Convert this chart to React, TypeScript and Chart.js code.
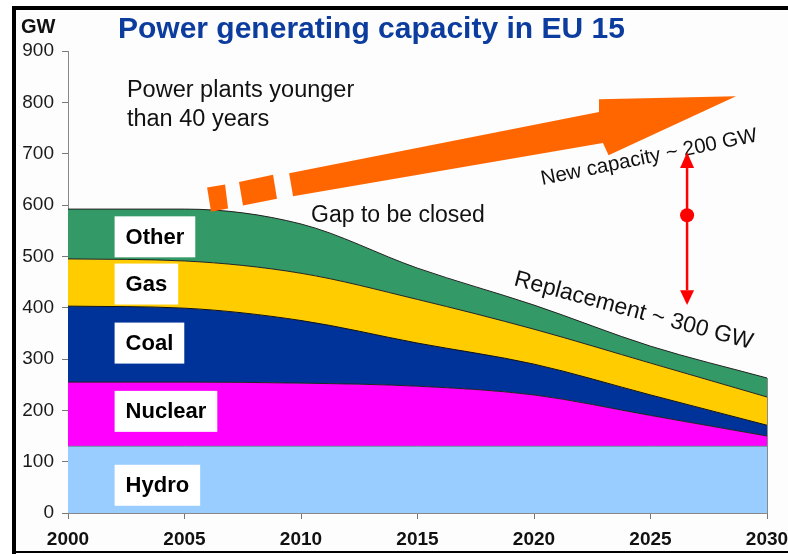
import React, { useEffect, useRef } from "react";
import { Chart, registerables } from "chart.js";

Chart.register(...registerables);

// ---------- data ----------
const years = [2000, 2005, 2010, 2015, 2020, 2025, 2030];
const hydro = [130, 130, 130, 130, 130, 130, 130];
const nuclear = [125, 125, 123, 117, 100, 60, 20];
const coal = [148, 144, 122, 84, 60, 40, 21];
const gas = [92, 92, 92, 85, 68, 62, 55];
const other = [97, 101, 96, 61, 47, 33, 37];

const seriesNames = ["Hydro", "Nuclear", "Coal", "Gas", "Other"];
const seriesValues = [hydro, nuclear, coal, gas, other];
const seriesColors = ["#99ccff", "#ff00ff", "#003399", "#ffcc00", "#339966"];
const seriesBorders = ["#6a8a9a", "#222222", "#111111", "#222222", "#222222"];

const xMin = 2000;
const xMax = 2030;
const xStep = 5;
const yMin = 0;
const yMax = 900;
const yStep = 100;

const titleText = "Power generating capacity in EU 15";
const unitText = "GW";
const noteLines = ["Power plants younger", "than 40 years"];
const gapText = "Gap to be closed";
const newCapText = "New capacity ~ 200 GW";
const replText = "Replacement ~ 300 GW";

// annotation anchors in data units (year, GW)
const seriesLabelX = 2002;
const seriesLabelY = [54, 198, 331, 446, 538];
const notePos = { x: 2002.53, y1: 810, y2: 754 };
const gapPos = { x: 2010.43, y: 567 };
const newCapPos = { x: 2020.35, y: 639, angle: -11.5 };
const replPos = { x: 2019.1, y: 444, angle: 15 };
const orangeDashes = [
  [[2005.97, 634], [2006.74, 640], [2006.87, 593], [2006.14, 587]],
  [[2007.34, 645], [2008.8, 659], [2008.97, 612], [2007.51, 599]],
];
const orangeBody = [
  [2009.49, 662], [2022.79, 781], [2022.79, 806], [2028.67, 812],
  [2023.2, 697], [2022.96, 721], [2009.66, 617],
];
const redArrow = { x: 2026.57, top: 703, topBase: 672, bottom: 405, bottomBase: 434, dot: 580 };

const FONT = "'Liberation Sans', Arial, Helvetica, sans-serif";

const decorPlugin = {
  id: "decor",
  beforeDraw(chart: any) {
    const { ctx, width, height } = chart;
    ctx.save();
    ctx.fillStyle = "#ffffff";
    ctx.fillRect(0, 0, width, height);
    ctx.fillStyle = "#fdfdfd";
    ctx.fillRect(16, 10, width - 16, height - 13);
    ctx.restore();
  },
  afterDatasetsDraw(chart: any) {
    const { ctx } = chart;
    const xs = chart.scales.x;
    const ys = chart.scales.y;
    const X = (v: number) => xs.getPixelForValue(v);
    const Y = (v: number) => ys.getPixelForValue(v);
    ctx.save();
    // right edge of the stacked area
    const lastIdx = years.length - 1;
    let total = 0;
    seriesValues.forEach((s) => (total += s[lastIdx]));
    ctx.strokeStyle = "#8a8a8a";
    ctx.lineWidth = 1;
    ctx.beginPath();
    ctx.moveTo(Math.round(X(years[lastIdx])) + 0.5, Y(0));
    ctx.lineTo(Math.round(X(years[lastIdx])) + 0.5, Y(total));
    ctx.stroke();

    // series label boxes
    ctx.font = `bold 22px ${FONT}`;
    ctx.textBaseline = "middle";
    ctx.textAlign = "left";
    seriesNames.forEach((name, i) => {
      const w = ctx.measureText(name).width + 22;
      const x0 = X(seriesLabelX);
      const yc = Y(seriesLabelY[i]);
      ctx.fillStyle = "#ffffff";
      ctx.fillRect(x0, yc - 20.5, w, 41);
      ctx.fillStyle = "#000000";
      ctx.fillText(name, x0 + 11, yc + 1);
    });
    ctx.restore();
  },
  afterDraw(chart: any) {
    const { ctx, width, height } = chart;
    const xs = chart.scales.x;
    const ys = chart.scales.y;
    const X = (v: number) => xs.getPixelForValue(v);
    const Y = (v: number) => ys.getPixelForValue(v);
    ctx.save();

    // frame
    ctx.fillStyle = "#000000";
    ctx.fillRect(12, 6, 4, height - 6);
    ctx.fillRect(12, 6, width - 12, 4);
    ctx.fillRect(12, 551, width - 12, 2);

    // title & unit
    ctx.textAlign = "left";
    ctx.textBaseline = "alphabetic";
    ctx.fillStyle = "#0b3c9e";
    ctx.font = `bold 30px ${FONT}`;
    ctx.fillText(titleText, 118, 38);
    ctx.fillStyle = "#111111";
    ctx.font = `bold 20px ${FONT}`;
    ctx.fillText(unitText, 21, 33);

    // notes
    ctx.fillStyle = "#111111";
    ctx.font = `23.5px ${FONT}`;
    ctx.fillText(noteLines[0], X(notePos.x), Y(notePos.y1));
    ctx.fillText(noteLines[1], X(notePos.x), Y(notePos.y2));
    ctx.font = `23px ${FONT}`;
    ctx.fillText(gapText, X(gapPos.x), Y(gapPos.y));

    ctx.save();
    ctx.translate(X(newCapPos.x), Y(newCapPos.y));
    ctx.rotate((newCapPos.angle * Math.PI) / 180);
    ctx.font = `20.5px ${FONT}`;
    ctx.fillText(newCapText, 0, 0);
    ctx.restore();

    ctx.save();
    ctx.translate(X(replPos.x), Y(replPos.y));
    ctx.rotate((replPos.angle * Math.PI) / 180);
    ctx.font = `23px ${FONT}`;
    ctx.fillText(replText, 0, 0);
    ctx.restore();

    // orange arrow
    ctx.fillStyle = "#ff6600";
    const poly = (pts: number[][]) => {
      ctx.beginPath();
      pts.forEach((p, i) => {
        const px = X(p[0]);
        const py = Y(p[1]);
        if (i === 0) ctx.moveTo(px, py);
        else ctx.lineTo(px, py);
      });
      ctx.closePath();
      ctx.fill();
    };
    orangeDashes.forEach((d) => poly(d));
    poly(orangeBody);

    // red double arrow
    const rx = X(redArrow.x);
    ctx.strokeStyle = "#ff0000";
    ctx.fillStyle = "#ff0000";
    ctx.lineWidth = 2.5;
    ctx.beginPath();
    ctx.moveTo(rx, Y(redArrow.topBase));
    ctx.lineTo(rx, Y(redArrow.bottomBase));
    ctx.stroke();
    ctx.beginPath();
    ctx.moveTo(rx, Y(redArrow.top));
    ctx.lineTo(rx - 7, Y(redArrow.topBase));
    ctx.lineTo(rx + 7, Y(redArrow.topBase));
    ctx.closePath();
    ctx.fill();
    ctx.beginPath();
    ctx.moveTo(rx, Y(redArrow.bottom));
    ctx.lineTo(rx - 7, Y(redArrow.bottomBase));
    ctx.lineTo(rx + 7, Y(redArrow.bottomBase));
    ctx.closePath();
    ctx.fill();
    ctx.beginPath();
    ctx.arc(rx, Y(redArrow.dot), 7, 0, Math.PI * 2);
    ctx.fill();

    ctx.restore();
  },
};

export default function App() {
  const canvasRef = useRef<HTMLCanvasElement | null>(null);

  useEffect(() => {
    const canvas = canvasRef.current;
    if (!canvas) return;
    const datasets = seriesNames.map((name, i) => ({
      label: name,
      data: years.map((yr, j) => ({ x: yr, y: seriesValues[i][j] })),
      backgroundColor: seriesColors[i],
      borderColor: seriesBorders[i],
      borderWidth: 1,
      fill: i === 0 ? "origin" : "-1",
      pointRadius: 0,
      cubicInterpolationMode: "monotone" as const,
    }));
    const chart = new Chart(canvas, {
      type: "line",
      data: { datasets },
      options: {
        responsive: false,
        animation: false,
        devicePixelRatio: 1,
        layout: { padding: { left: 0, top: 51, right: 21, bottom: 0 } },
        plugins: {
          legend: { display: false },
          tooltip: { enabled: false },
          title: { display: false },
        },
        scales: {
          x: {
            type: "linear",
            min: xMin,
            max: xMax,
            afterFit: (s: any) => {
              s.height = 41;
              s.paddingLeft = 0;
              s.paddingRight = 0;
            },
            grid: {
              display: true,
              drawOnChartArea: false,
              drawTicks: true,
              tickLength: 6,
              color: "#777777",
            },
            border: { display: true, color: "#888888", width: 1 },
            ticks: {
              stepSize: xStep,
              maxRotation: 0,
              autoSkip: false,
              padding: 9,
              color: "#111111",
              font: { family: FONT, size: 19, weight: "bold" },
              callback: (v: any) => String(v),
            },
          },
          y: {
            type: "linear",
            stacked: true,
            min: yMin,
            max: yMax,
            afterFit: (s: any) => {
              s.width = 68;
              s.paddingTop = 0;
              s.paddingBottom = 0;
            },
            grid: {
              display: true,
              drawOnChartArea: false,
              drawTicks: true,
              tickLength: 6,
              color: "#777777",
            },
            border: { display: true, color: "#888888", width: 1 },
            ticks: {
              stepSize: yStep,
              padding: 8,
              color: "#1a1a1a",
              font: { family: FONT, size: 19 },
              callback: (v: any) => String(v),
            },
          },
        },
      },
      plugins: [decorPlugin],
    });
    return () => chart.destroy();
  }, []);

  return (
    <div
      style={{
        position: "absolute",
        left: 0,
        top: 0,
        width: 788,
        height: 554,
        background: "#ffffff",
      }}
    >
      <canvas
        ref={canvasRef}
        width={788}
        height={554}
        style={{ display: "block", width: 788, height: 554 }}
      />
    </div>
  );
}
